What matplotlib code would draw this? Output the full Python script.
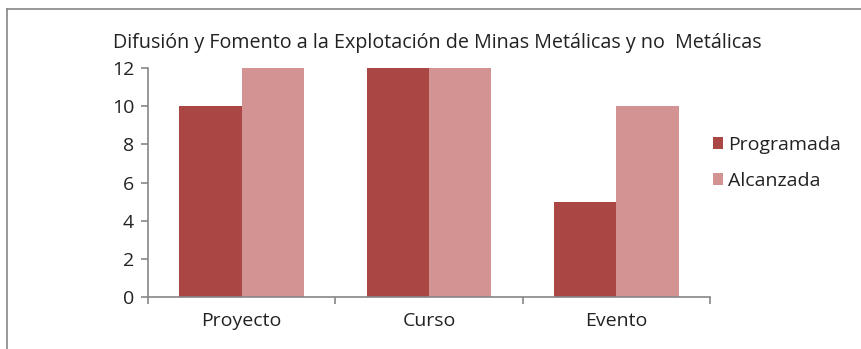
import numpy as np
import matplotlib.pyplot as plt
from matplotlib.lines import Line2D

categories = ["Proyecto", "Curso", "Evento"]
programada = [10, 12, 5]
alcanzada = [12, 12, 10]

plt.rcParams['font.family'] = ['Open Sans', 'DejaVu Sans']

W, H = 862, 349
fig = plt.figure(figsize=(W / 100, H / 100), dpi=100)
ax = fig.add_axes([148 / W, 1 - 297 / H, (710 - 148) / W, (297 - 68) / H])

x = np.arange(len(categories))
w = 1 / 3
ax.bar(x - w / 2, programada, w, color="#AA4644", label="Programada")
ax.bar(x + w / 2, alcanzada, w, color="#D39392", label="Alcanzada")

ax.set_xlim(-0.5, len(categories) - 0.5)
ax.set_ylim(0, 12)
ax.set_yticks(range(0, 13, 2))
ax.set_xticks(x)
ax.set_xticklabels(categories)
ax.set_xticks(np.arange(-0.5, len(categories)), minor=True)
ax.tick_params(axis='x', which='major', length=0, pad=11, labelsize=14, labelcolor="#222222")
ax.tick_params(axis='x', which='minor', length=5, color="#868686", width=1.2)
ax.tick_params(axis='y', length=5, color="#868686", width=1.2, labelsize=14, pad=5,
               labelcolor="#222222")
for s in ["top", "right"]:
    ax.spines[s].set_visible(False)
for s in ["left", "bottom"]:
    ax.spines[s].set_color("#868686")
    ax.spines[s].set_linewidth(1.2)

fig.text(437 / W, 1 - 43 / H, "Difusión y Fomento a la Explotación de Minas Metálicas y no  Metálicas",
         ha="center", va="center", fontsize=14.2, color="#222222")

leg = fig.legend(loc="center left", bbox_to_anchor=(695 / W, 1 - 163 / H), frameon=False,
                 fontsize=14, handlelength=0.55, handleheight=0.55, handletextpad=0.25,
                 labelspacing=0.95, labelcolor="#222222")

# outer chart border (top and left visible)
fig.add_artist(Line2D([7 / W, 7 / W], [0, 1 - 9 / H], transform=fig.transFigure, color="#868686", lw=1.2))
fig.add_artist(Line2D([7 / W, 1], [1 - 9 / H, 1 - 9 / H], transform=fig.transFigure, color="#868686", lw=1.2))

fig.savefig("out.png", dpi=100)
